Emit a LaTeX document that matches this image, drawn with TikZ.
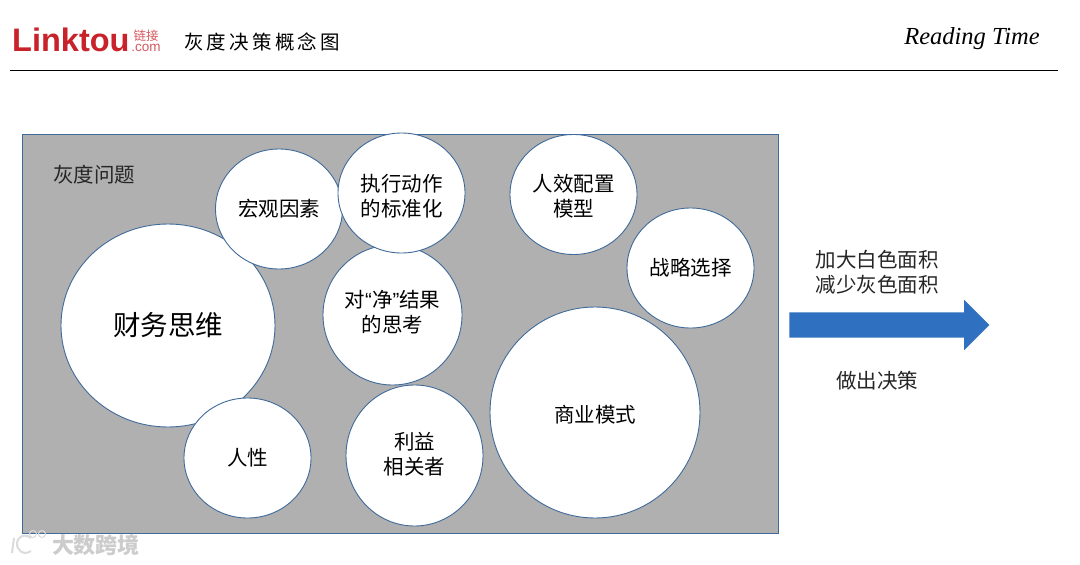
\documentclass[tikz,border=0pt]{standalone}
\usepackage{fontspec}
\usepackage{xcolor}
\setmainfont{Noto Sans CJK SC}
\newfontfamily\latinsans{Liberation Sans}
\newfontfamily\signfont{Liberation Serif}
\usetikzlibrary{shapes.geometric, shapes.arrows, positioning}
\definecolor{bubbleline}{HTML}{3F6A9A}
\definecolor{panelgray}{HTML}{B0B0B0}
\definecolor{arrowblue}{HTML}{3070C0}
\definecolor{logored}{HTML}{C8222A}
% text in a bubble: takes no room, so the bubble keeps its size
\newcommand{\bubbletext}[2][-8pt]{\raisebox{#1}[0pt][0pt]{\makebox[0pt]{\begin{tabular}[c]{@{}c@{}}#2\end{tabular}}}}

\begin{document}
\begin{tikzpicture}[x=1pt, y=-1pt, font=\fontsize{20.5}{25}\selectfont]
    \tikzstyle{panel} = [rectangle, draw=bubbleline, fill=panelgray, line width=0.9pt, minimum width=756pt, minimum height=399pt, inner sep=0pt]
    \tikzstyle{bubble} = [ellipse, draw=bubbleline, fill=white, line width=0.9pt, inner sep=0pt]
    \tikzstyle{small} = [bubble, minimum width=127pt, minimum height=120pt]
    \tikzstyle{label} = [inner sep=0pt, align=center, text=black!85]

    \useasboundingbox (0,0) rectangle (1080,565);
    \fill[white] (0,0) rectangle (1080,565);

    % header
    \node (logo) [inner sep=0pt, anchor=west, text=logored, font=\latinsans\bfseries\fontsize{32.5}{34}\selectfont] at (12,40) {Linktou};
    \node (logocn) [inner sep=0pt, text=logored!75, font=\fontsize{12.5}{13}\selectfont] at (146,35.5) {链接};
    \node (logocom) [inner sep=0pt, text=logored!75, font=\latinsans\fontsize{13.5}{14}\selectfont] at (146,47.5) {.com};
    \node (title) [inner sep=0pt, anchor=west, text=black, font=\fontsize{19.5}{24}\selectfont] at (184,42) {灰\,度\,决\,策\,概\,念\,图};
    \node (reading) [inner sep=0pt, text=black, font=\signfont\itshape\fontsize{24.5}{30}\selectfont] at (972,39) {Reading Time};
    \coordinate (ruleleft) at (10,70.5);
    \coordinate (ruleright) at (1058,70.5);
    \draw [black, line width=0.8pt] (ruleleft) -- (ruleright);

    % gray area and bubbles
    \node (area) [panel] at (400,333.5) {};
    \node (areatitle) [label] at (94,175) {灰度问题};
    \node (finance) [bubble, minimum width=214pt, minimum height=203pt, font=\fontsize{27.5}{32}\selectfont] at (168,325.5) {\bubbletext[-9pt]{财务思维}};
    \node (macro) [small] at (279,209) {\bubbletext{宏观因素}};
    \node (net) [bubble, minimum width=139pt, minimum height=140pt] at (392.5,315) {\bubbletext[-5.5pt]{对{\latinsans “}净{\latinsans ”}结果\\的思考}};
    \node (action) [small] at (401.5,193) {\bubbletext[-11pt]{执行动作\\的标准化}};
    \node (staffing) [small] at (573.5,194.5) {\bubbletext[-10pt]{人效配置\\模型}};
    \node (strategy) [small] at (690.5,268) {\bubbletext{战略选择}};
    \node (business) [bubble, minimum width=210pt, minimum height=211pt] at (595,412.5) {\bubbletext[-10pt]{商业模式}};
    \node (human) [small] at (247.5,458) {\bubbletext{人性}};
    \node (stake) [bubble, minimum width=137pt, minimum height=141pt] at (414.5,455.5) {\bubbletext[-6.5pt]{利益\\相关者}};

    % right side
    \node (moveshape) [single arrow, fill=arrowblue, minimum height=200pt, single arrow head extend=12.5pt, single arrow tip angle=90, inner xsep=0pt, inner ysep=12.5pt] at (883,325) {};
    \node (enlarge) [label, above=18pt of moveshape, xshift=-6pt] {加大白色面积\\减少灰色面积};
    \node (decide) [label, below=33pt of moveshape, xshift=-6pt] {做出决策};

    % watermark
    \node (mark) [inner sep=0pt, text=black!20, font=\bfseries\fontsize{22}{24}\selectfont] at (96,545) {大数跨境};
    \coordinate (stemtop) at (14,538);
    \coordinate (stemend) at (12,553);
    \coordinate (curlstart) at (31,538);
    \coordinate (curlend) at (31,551);
    \draw [black!14, line width=2pt] (stemtop) -- (stemend);
    \draw [black!14, line width=2pt] (curlstart) .. controls (22,531) and (14,541) .. (18,548) .. controls (21,554) and (27,554) .. (curlend);
    \draw [black!14, line width=1pt] (33,534) circle (3.5pt);
    \draw [black!14, line width=1pt] (42,534) circle (3.5pt);
\end{tikzpicture}
\end{document}
